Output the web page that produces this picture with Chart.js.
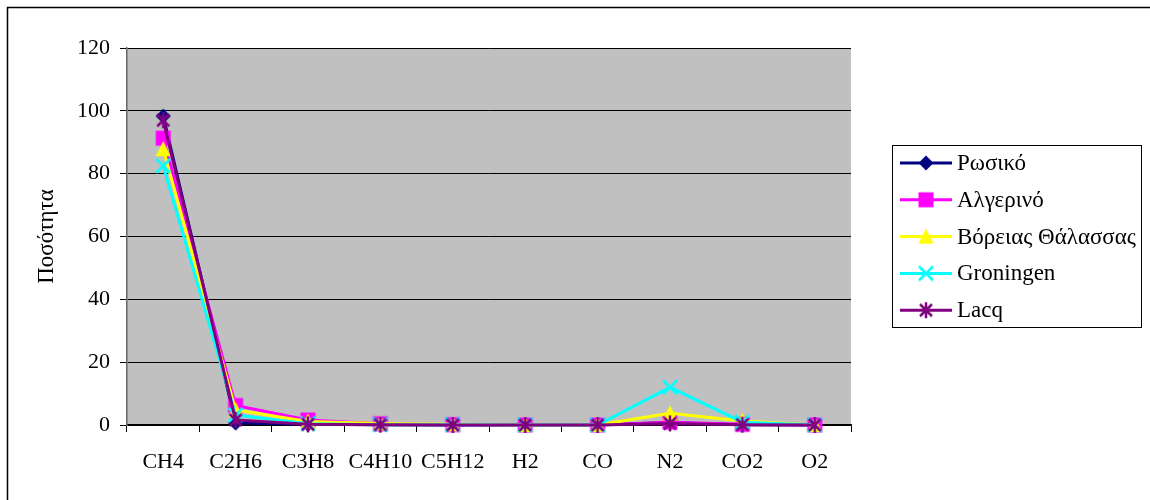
<!DOCTYPE html>
<html>
<head>
<meta charset="utf-8">
<script src="https://cdn.jsdelivr.net/npm/chart.js@4"></script>
<style>
  html, body { margin: 0; padding: 0; background: #ffffff; }
  #wrap { width: 1150px; height: 500px; position: relative; }
</style>
</head>
<body>
<div id="wrap"><canvas id="c" width="1150" height="500"></canvas></div>
<script>
// Gas components (x axis)
const components = ['CH4', 'C2H6', 'C3H8', 'C4H10', 'C5H12', 'H2', 'CO', 'N2', 'CO2', 'O2'];

// Composition of each natural gas (%)
const russian   = [98.3, 0.6, 0.2, 0.1, 0.0, 0.0, 0.0, 0.8, 0.1, 0.0];
const algerian  = [91.3, 6.2, 1.6, 0.4, 0.1, 0.0, 0.0, 0.9, 0.2, 0.0];
const northSea  = [87.8, 4.8, 1.1, 0.5, 0.2, 0.0, 0.0, 3.7, 1.3, 0.0];
const groningen = [82.5, 3.2, 0.4, 0.1, 0.1, 0.0, 0.0, 12.0, 0.9, 0.0];
const lacq      = [97.0, 1.6, 0.2, 0.1, 0.0, 0.0, 0.0, 0.5, 0.1, 0.0];

// Series names
const seriesNames = ['Ρωσικό', 'Αλγερινό', 'Βόρειας Θάλασσας', 'Groningen', 'Lacq'];

// Value axis ticks
const yTicks = [0, 20, 40, 60, 80, 100, 120];

const yTitle = 'Ποσότητα';
const FONT = "'Liberation Serif', 'Times New Roman', serif";

// Excel-style marker images
function marker(kind, color) {
  const s = 18, c = document.createElement('canvas');
  c.width = s; c.height = s;
  const g = c.getContext('2d');
  const m = s / 2;
  g.fillStyle = color; g.strokeStyle = color;
  g.lineWidth = 2.5; g.lineCap = 'butt';
  if (kind === 'diamond') {
    g.beginPath(); g.moveTo(m, 1.5); g.lineTo(s - 1.5, m); g.lineTo(m, s - 1.5); g.lineTo(1.5, m); g.closePath(); g.fill();
  } else if (kind === 'square') {
    g.fillRect(1.5, 1.5, 15, 15);
  } else if (kind === 'triangle') {
    g.beginPath(); g.moveTo(m, 1); g.lineTo(s - 1.5, s - 2); g.lineTo(1.5, s - 2); g.closePath(); g.fill();
  } else if (kind === 'x') {
    g.beginPath(); g.moveTo(2, 2); g.lineTo(s - 2, s - 2); g.moveTo(s - 2, 2); g.lineTo(2, s - 2); g.stroke();
  } else if (kind === 'star') {
    g.beginPath(); g.moveTo(3, 3); g.lineTo(s - 3, s - 3); g.moveTo(s - 3, 3); g.lineTo(3, s - 3);
    g.moveTo(m, 1); g.lineTo(m, s - 1); g.stroke();
  }
  return c;
}

const colors = ['#000080', '#FF00FF', '#FFFF00', '#00FFFF', '#800080'];
const kinds = ['diamond', 'square', 'triangle', 'x', 'star'];
const seriesValues = [russian, algerian, northSea, groningen, lacq];

const datasets = seriesValues.map((vals, i) => {
  const img = marker(kinds[i], colors[i]);
  return {
    label: seriesNames[i],
    data: vals,
    borderColor: colors[i],
    backgroundColor: colors[i],
    borderWidth: 3,
    pointStyle: img,
    pointRadius: 8,
    pointHoverRadius: 8,
    tension: 0,
    clip: false,
    order: seriesValues.length - 1 - i,
    markerImg: img
  };
});

// Chart frame, plot background and boxed legend
const decor = {
  id: 'decor',
  beforeDraw(chart) {
    const { ctx, chartArea: a } = chart;
    ctx.save();
    ctx.fillStyle = '#ffffff';
    ctx.fillRect(0, 0, chart.width, chart.height);
    ctx.fillStyle = '#C0C0C0';
    ctx.fillRect(a.left, a.top, a.right - a.left, a.bottom - a.top);
    ctx.strokeStyle = '#000000';
    ctx.lineWidth = 1.5;
    ctx.strokeRect(7.5, 7.5, 1160, 500);
    ctx.restore();
  },
  afterDraw(chart) {
    const { ctx } = chart;
    ctx.save();
    const bx = 892.5, by = 145.5, bw = 249, bh = 182;
    ctx.fillStyle = '#ffffff';
    ctx.fillRect(bx, by, bw, bh);
    ctx.strokeStyle = '#000000';
    ctx.lineWidth = 1;
    ctx.strokeRect(bx, by, bw, bh);
    ctx.font = '23px ' + FONT;
    ctx.textBaseline = 'middle';
    ctx.textAlign = 'left';
    chart.data.datasets.forEach((ds, i) => {
      const y = 163 + i * 36.8;
      ctx.strokeStyle = ds.borderColor;
      ctx.lineWidth = 3;
      ctx.beginPath(); ctx.moveTo(900, y); ctx.lineTo(952, y); ctx.stroke();
      ctx.drawImage(ds.markerImg, 926 - 9, y - 9);
      ctx.fillStyle = '#000000';
      ctx.fillText(ds.label, 957, y + 1);
    });
    ctx.restore();
  }
};

new Chart(document.getElementById('c'), {
  type: 'line',
  data: { labels: components, datasets },
  options: {
    responsive: false,
    animation: false,
    devicePixelRatio: 1,
    layout: { padding: { left: 0, top: 48, right: 299, bottom: 0 } },
    plugins: { legend: { display: false }, tooltip: { enabled: false } },
    scales: {
      x: {
        offset: true,
        grid: {
          offset: true,
          drawOnChartArea: false,
          drawTicks: true,
          tickLength: 7,
          color: '#000000'
        },
        border: { color: '#000000', width: 1.5 },
        ticks: {
          color: '#000000',
          font: { family: FONT, size: 22 },
          padding: 17,
          maxRotation: 0,
          autoSkip: false
        },
        afterFit(scale) { scale.height = 75; }
      },
      y: {
        min: 0,
        max: 120,
        afterBuildTicks(scale) { scale.ticks = yTicks.map(v => ({ value: v })); },
        grid: {
          color: '#000000',
          lineWidth: 1,
          tickLength: 7
        },
        border: { color: '#666666', width: 1.5 },
        ticks: {
          color: '#000000',
          font: { family: FONT, size: 22 },
          padding: 10
        },
        title: {
          display: true,
          text: yTitle,
          color: '#000000',
          font: { family: FONT, size: 23 },
          padding: { top: 33, bottom: 0 }
        },
        afterFit(scale) { scale.width = 127; }
      }
    }
  },
  plugins: [decor]
});
</script>
</body>
</html>
